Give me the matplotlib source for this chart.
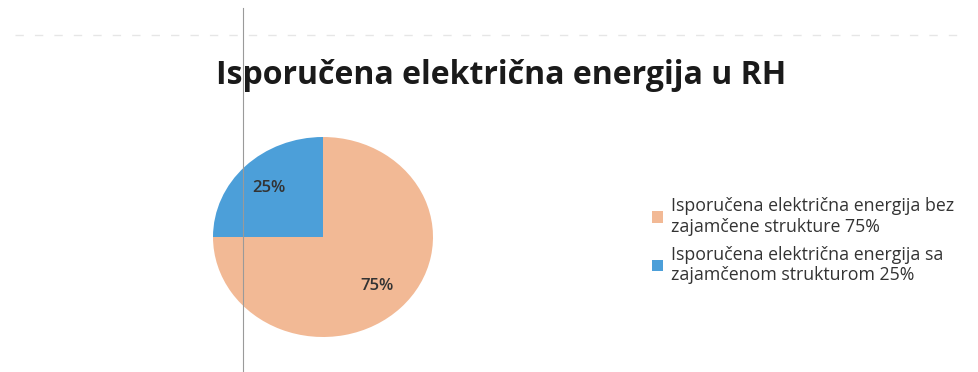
import matplotlib.pyplot as plt

# data
labels = ['Isporučena električna energija bez\nzajamčene strukture 75%',
          'Isporučena električna energija sa\nzajamčenom strukturom 25%']
values = [75, 25]
colors = ['#F2B995', '#4C9FD9']
title = 'Isporučena električna energija u RH'

W, H = 979, 372
fig = plt.figure(figsize=(W / 100, H / 100), dpi=100)
fig.patch.set_facecolor('white')

# scanner artifacts: vertical line and faint dotted rule
fig.add_artist(plt.Line2D([243 / W, 243 / W], [0, 1 - 8 / H], color='#9a9a9a', lw=0.8))
fig.add_artist(plt.Line2D([15 / W, 965 / W], [1 - 35 / H, 1 - 35 / H], color='#e6e6e6',
                          lw=1, ls=(0, (6, 8))))

fig.text(501 / W, 1 - 75 / H, title, ha='center', va='center',
         fontsize=23, fontweight='bold', family='Open Sans', color='#1a1a1a')

# pie (slightly elliptical, like the scan)
ax = fig.add_axes([213 / W, 35 / H, 220 / W, 200 / H])
wedges, texts, autotexts = ax.pie(values, colors=colors, startangle=90, counterclock=False,
                                  autopct='%d%%', pctdistance=0.70, radius=1,
                                  wedgeprops=dict(linewidth=0))
for t in autotexts:
    t.set_fontsize(12)
    t.set_fontweight('semibold')
    t.set_family('Open Sans')
    t.set_color('#333333')
ax.set_aspect('auto')
ax.set_xlim(-1, 1)
ax.set_ylim(-1, 1)

fig.legend(wedges, labels, loc='upper left', bbox_to_anchor=(636 / W, 1 - 181 / H),
           frameon=False, handlelength=0.6, handleheight=0.6, handletextpad=0.45,
           labelspacing=0.55, prop=dict(family='Open Sans', size=12.8), labelcolor='#333333')

fig.savefig('out.png', dpi=100, facecolor='white')
